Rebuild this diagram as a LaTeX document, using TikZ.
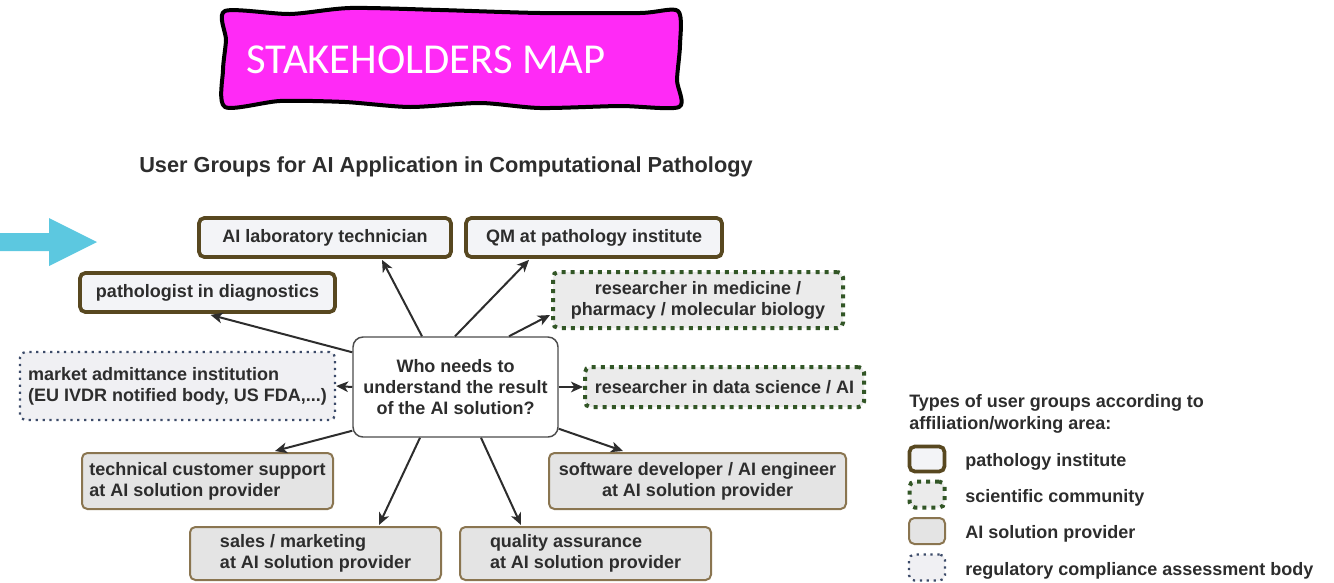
\documentclass[tikz,border=0pt]{standalone}
\usepackage{fontspec}
\setmainfont{Liberation Sans}
\newfontfamily\bannerfont{Carlito}
\usetikzlibrary{arrows.meta,calc}

\definecolor{banner}{RGB}{255,42,246}
\definecolor{pointer}{RGB}{92,200,224}
\definecolor{instline}{RGB}{88,72,32}
\definecolor{instfill}{RGB}{243,244,247}
\definecolor{sciline}{RGB}{50,86,38}
\definecolor{scifill}{RGB}{235,235,235}
\definecolor{provline}{RGB}{138,117,80}
\definecolor{provfill}{RGB}{228,228,228}
\definecolor{regline}{RGB}{60,75,105}
\definecolor{regfill}{RGB}{240,240,243}
\definecolor{ink}{RGB}{45,45,45}

\tikzset{
  box/.style={rectangle, rounded corners=4pt, inner sep=0pt, align=center},
  inst/.style={box, draw=instline, line width=2.8pt, fill=instfill},
  sci/.style={box, draw=sciline, line width=3pt, fill=scifill, dash pattern=on 3pt off 3.8pt},
  prov/.style={box, draw=provline, line width=1.5pt, fill=provfill},
  reg/.style={box, draw=regline, line width=1.7pt, fill=regfill, dash pattern=on 1.7pt off 3.5pt},
  hubbox/.style={rectangle, rounded corners=7.5pt, inner sep=0pt, align=center, draw=ink!85, line width=1.1pt, fill=white},
  link/.style={draw=ink, line width=1.5pt, -{Stealth[length=9pt,width=8pt,inset=2.5pt]}},
  keytext/.style={anchor=base west, inner sep=0pt},
}

\begin{document}
\begin{tikzpicture}[x=0.75pt,y=-0.75pt,
  every node/.style={font=\bfseries\fontsize{13.5}{15.75}\selectfont, text=ink}]
\useasboundingbox (0,0) rectangle (1334,582);

% banner with a hand-drawn border
\draw[line width=3pt, fill=banner, line join=round]
  plot[smooth cycle, tension=0.45] coordinates {
    (225,11) (290,14) (350,8) (440,10) (540,13) (640,13) (678,11)
    (680,45) (677,80) (679,107) (620,106) (540,108) (480,103)
    (410,107) (345,102) (280,101) (225,107) (223,70) (226,40)};
\node[anchor=base west, inner sep=0pt, text=white,
      font=\bannerfont\fontsize{32}{38}\selectfont] (title) at (246,73) {STAKEHOLDERS MAP};

% cyan pointer
\fill[pointer] (0,233) -- (49,233) -- (49,218) -- (97,242) -- (49,266) -- (49,251) -- (0,251) -- cycle;

% heading
\node[anchor=base west, inner sep=0pt, font=\bfseries\fontsize{16.3}{19}\selectfont]
  (subtitle) at (139,172.5) {User Groups for AI Application in Computational Pathology};

% user groups
\node[inst, minimum width=189pt, minimum height=29.25pt] (lab) at (325,237.5) {AI laboratory technician};
\node[inst, minimum width=192pt, minimum height=29.25pt] (qm) at (594,237.5) {QM at pathology institute};
\node[inst, minimum width=191.25pt, minimum height=29.25pt] (path) at (207.5,292.5) {pathologist in diagnostics};
\node[sci, minimum width=217.5pt, minimum height=42pt] (med) at (698,300) {researcher in medicine /\\pharmacy / molecular biology};
\node[hubbox, minimum width=153.75pt, minimum height=75pt] (hub) at (455.5,387) {Who needs to\\understand the result\\of the AI solution?};
\node[reg, minimum width=236.25pt, minimum height=51pt, align=left] (mkt) at (177.5,386) {market admittance institution\\(EU IVDR notified body, US FDA,...)};
\node[sci, minimum width=209.25pt, minimum height=30pt] (ds) at (724.5,387) {researcher in data science / AI};
\node[prov, minimum width=188.25pt, minimum height=42pt, align=left] (sup) at (207.5,481) {technical customer support\\at AI solution provider};
\node[prov, minimum width=222.75pt, minimum height=42pt] (dev) at (697.5,481) {software developer / AI engineer\\at AI solution provider};
\node[prov, minimum width=188.25pt, minimum height=39.75pt, align=left] (sales) at (315.5,553.5) {sales / marketing\\at AI solution provider};
\node[prov, minimum width=188.25pt, minimum height=39.75pt, align=left] (qa) at (585.5,553.5) {quality assurance\\at AI solution provider};

% connectors from the central question
\draw[link] ($(hub.north)+(-33.5,0)$) -- ($(lab.south)+(57,1)$);
\draw[link] ($(hub.north)+(-0.5,0)$) -- ($(qm.south)+(-65,1)$);
\draw[link] ($(hub.north west)+(0,16)$) -- ($(path.south)+(3,1)$);
\draw[link] ($(hub.north)+(53.5,0)$) -- ($(med.west)+(-1,15)$);
\draw[link] (hub.west) -- (mkt.east);
\draw[link] (hub.east) -- (ds.west);
\draw[link] ($(hub.south west)+(0,-7)$) -- ($(sup.north)+(67.5,-1)$);
\draw[link] ($(hub.south)+(-35.5,0)$) -- ($(sales.north)+(63.5,-1)$);
\draw[link] ($(hub.south)+(25.5,0)$) -- ($(qa.north)+(-64.5,-1)$);
\draw[link] ($(hub.south east)+(0,-9)$) -- ($(dev.north)+(-74.5,-1)$);

% legend
\node[anchor=north west, inner sep=0pt, align=left, font=\bfseries\fontsize{13.5}{17}\selectfont]
  (legtitle) at (909,394) {Types of user groups according to\\affiliation/working area:};
\node[inst, minimum width=26.25pt, minimum height=18.75pt] (k1) at (927,459) {};
\node[sci, minimum width=26.25pt, minimum height=19.5pt] (k2) at (927,494.5) {};
\node[prov, minimum width=27pt, minimum height=19.5pt] (k3) at (927,531) {};
\node[reg, minimum width=27pt, minimum height=19.5pt] (k4) at (927,567.5) {};
\node[keytext] (k1t) at (965,466) {pathology institute};
\node[keytext] (k2t) at (965,502) {scientific community};
\node[keytext] (k3t) at (965,538) {AI solution provider};
\node[keytext] (k4t) at (965,575) {regulatory compliance assessment body};
\end{tikzpicture}
\end{document}
